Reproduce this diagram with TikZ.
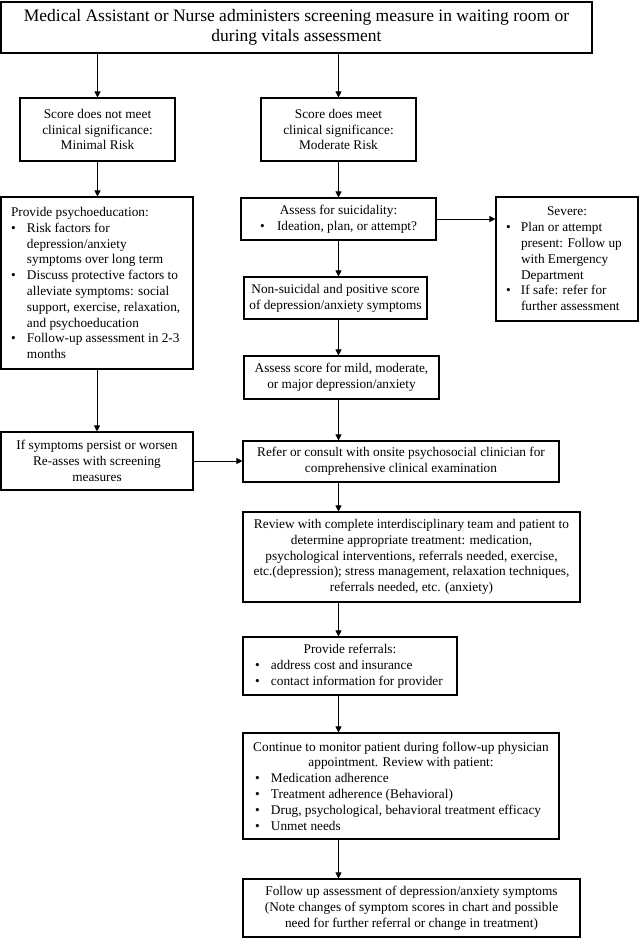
\documentclass[tikz,border=0pt]{standalone}
\usepackage{fontspec}
\setmainfont{Liberation Serif}
\usetikzlibrary{arrows.meta}
\newcommand\bli[2]{\makebox[#1][l]{\makebox[16pt][l]{\textbullet}#2}}
\newcommand\blc[2]{\makebox[#1][l]{\hspace{16pt}#2}}
\newcommand\blt[2]{\makebox[#1][l]{#2}}
\newcommand\sli[2]{\makebox[#1][l]{\makebox[15pt][l]{\textbullet}#2}}
\newcommand\slc[2]{\makebox[#1][l]{\hspace{15pt}#2}}
\begin{document}
\begin{tikzpicture}[x=1pt,y=-1pt,
  box/.style={draw, line width=1.1pt, inner sep=0pt, align=center,
    font=\fontsize{13.3}{15.8}\selectfont},
  arr/.style={line width=0.9pt, -{Triangle[length=6pt,width=6pt]}}]
\useasboundingbox[fill=white] (0,0) rectangle (640,938);
\node[box, minimum width=591pt, minimum height=51pt, font=\fontsize{17.5}{20}\selectfont] (top) at (296.5,27.5)
  {Medical Assistant or Nurse administers screening measure in waiting room or\\during vitals assessment};
\node[box, minimum width=155pt, minimum height=63pt] (min) at (97.5,129.5)
  {Score does not meet\\clinical significance:\\Minimal Risk};
\node[box, minimum width=155pt, minimum height=63pt] (mod) at (338.5,129.5)
  {Score does meet\\clinical significance:\\Moderate Risk};
\node[box, minimum width=192pt, minimum height=172pt] (psy) at (97,283)
  {\blt{172pt}{Provide psychoeducation:}\\
   \bli{172pt}{Risk factors for}\\
   \blc{172pt}{depression/anxiety}\\
   \blc{172pt}{symptoms over long term}\\
   \bli{172pt}{Discuss protective factors to}\\
   \blc{172pt}{alleviate symptoms: social}\\
   \blc{172pt}{support, exercise, relaxation,}\\
   \blc{172pt}{and psychoeducation}\\
   \bli{172pt}{Follow-up assessment in 2-3}\\
   \blc{172pt}{months}};
\node[box, minimum width=195pt, minimum height=42pt] (sui) at (338.5,219)
  {Assess for suicidality:\\\makebox[17pt][l]{\textbullet}Ideation, plan, or attempt?};
\node[box, minimum width=142pt, minimum height=124pt] (sev) at (567,259)
  {Severe:\\
   \sli{122pt}{Plan or attempt}\\
   \slc{122pt}{present: Follow up}\\
   \slc{122pt}{with Emergency}\\
   \slc{122pt}{Department}\\
   \sli{122pt}{If safe: refer for}\\
   \slc{122pt}{further assessment}};
\node[box, minimum width=183pt, minimum height=42pt] (non) at (335.5,298)
  {Non-suicidal and positive score\\of depression/anxiety symptoms};
\node[box, minimum width=195pt, minimum height=43pt] (asc) at (341.5,377.5)
  {Assess score for mild, moderate,\\or major depression/anxiety};
\node[box, minimum width=192pt, minimum height=58pt] (ifs) at (97,461)
  {If symptoms persist or worsen\\Re-asses with screening\\measures};
\node[box, minimum width=316pt, minimum height=41pt] (ref) at (401,461.5)
  {Refer or consult with onsite psychosocial clinician for\\comprehensive clinical examination};
\node[box, minimum width=337pt, minimum height=90pt] (rev) at (411.5,557)
  {Review with complete interdisciplinary team and patient to\\determine appropriate treatment: medication,\\psychological interventions, referrals needed, exercise,\\etc.(depression); stress management, relaxation techniques,\\referrals needed, etc. (anxiety)};
\node[box, minimum width=214pt, minimum height=58pt] (prf) at (350,666)
  {Provide referrals:\\
   \bli{190pt}{address cost and insurance}\\
   \bli{190pt}{contact information for provider}};
\node[box, minimum width=316pt, minimum height=106pt] (con) at (401,786)
  {Continue to monitor patient during follow-up physician\\appointment. Review with patient:\\
   \bli{292pt}{Medication adherence}\\
   \bli{292pt}{Treatment adherence (Behavioral)}\\
   \bli{292pt}{Drug, psychological, behavioral treatment efficacy}\\
   \bli{292pt}{Unmet needs}};
\node[box, minimum width=337pt, minimum height=58pt] (fol) at (411.5,908)
  {Follow up assessment of depression/anxiety symptoms\\(Note changes of symptom scores in chart and possible\\need for further referral or change in treatment)};
\coordinate (sp) at (338.5,0);
\draw[arr] (top.south -| min) -- (min.north);
\draw[arr] (top.south -| mod) -- (mod.north);
\draw[arr] (min.south) -- (min.south |- psy.north);
\draw[arr] (mod.south) -- (mod.south |- sui.north);
\draw[arr] (sui.east) -- (sui.east -| sev.west);
\draw[arr] (sui.south -| sp) -- (non.north -| sp);
\draw[arr] (non.south -| sp) -- (asc.north -| sp);
\draw[arr] (asc.south -| sp) -- (ref.north -| sp);
\draw[arr] (psy.south -| ifs) -- (ifs.north);
\draw[arr] (ifs.east) -- (ifs.east -| ref.west);
\draw[arr] (ref.south -| sp) -- (rev.north -| sp);
\draw[arr] (rev.south -| sp) -- (prf.north -| sp);
\draw[arr] (prf.south -| sp) -- (con.north -| sp);
\draw[arr] (con.south -| sp) -- (fol.north -| sp);
\end{tikzpicture}
\end{document}
